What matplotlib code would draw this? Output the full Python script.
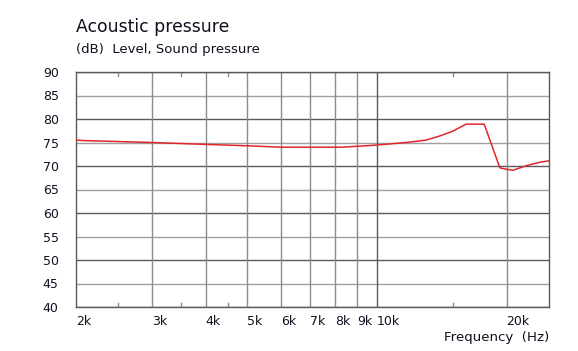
import matplotlib
matplotlib.use("Agg")
import matplotlib.pyplot as plt
from matplotlib.ticker import FixedLocator, NullFormatter

# Data
freq_hz = [2000, 2100, 3000, 4000, 5000, 6000, 8300, 9800, 11700, 13000, 14000,
           15000, 16100, 17750, 19300, 20000, 20700, 22300, 23900, 25100]
level_db = [75.5, 75.4, 75.0, 74.6, 74.3, 74.0, 74.0, 74.4, 75.0, 75.5, 76.4,
            77.4, 78.9, 78.9, 69.6, 69.3, 69.1, 70.1, 70.8, 71.1]

xtick_vals = [2000, 3000, 4000, 5000, 6000, 7000, 8000, 9000, 10000, 20000]
xtick_labels = ["2k", "3k", "4k", "5k", "6k", "7k", "8k", "9k", "10k", "20k"]
ytick_vals = [40, 45, 50, 55, 60, 65, 70, 75, 80, 85, 90]
minor_x = [2500, 3500, 4500, 15000]

title = "Acoustic pressure"
subtitle = "(dB)  Level, Sound pressure"
xlabel = "Frequency  (Hz)"

W, H = 578, 351
fig = plt.figure(figsize=(W / 100, H / 100), dpi=100)
ax = fig.add_axes([76 / W, 1 - 307 / H, (549 - 76) / W, (307 - 72) / H])

ax.set_xscale("log")
ax.set_xlim(2000, 25100)
ax.set_ylim(40, 90)

dark = "#5a5a5a"
light = "#a0a0a0"
txt = "#101020"

# horizontal grid
for v in ytick_vals:
    ax.axhline(v, color=dark if v % 10 == 0 else light, lw=1, zorder=1)
# vertical grid
for v in xtick_vals[1:]:
    ax.axvline(v, color=dark if v == 10000 else "#8c8c8c", lw=1, zorder=1)
# minor ticks (top and bottom)
for v in minor_x:
    ax.plot([v, v], [40, 40.9], color="#8c8c8c", lw=1, zorder=1)
    ax.plot([v, v], [89.1, 90], color="#8c8c8c", lw=1, zorder=1)

ax.plot(freq_hz, level_db, color="#e0262a", lw=1.1, zorder=3)

for s in ax.spines.values():
    s.set_color(dark)
    s.set_linewidth(1)

ax.xaxis.set_major_locator(FixedLocator([]))
ax.xaxis.set_minor_locator(FixedLocator([]))
ax.xaxis.set_minor_formatter(NullFormatter())
ax.set_yticks(ytick_vals)
ax.set_yticklabels([str(v) for v in ytick_vals])
ax.tick_params(axis="y", length=0, pad=12.5, labelsize=9, labelcolor=txt)
ax.tick_params(axis="x", length=0)

for v, lab in zip(xtick_vals, xtick_labels):
    ax.text(v, -0.033, lab, transform=ax.get_xaxis_transform(), ha="left", va="top",
            fontsize=9, color=txt)

fig.text(76 / W, 1 - 27 / H, title, ha="left", va="center", fontsize=12.4, color=txt)
fig.text(76 / W, 1 - 50 / H, subtitle, ha="left", va="center", fontsize=9.5, color=txt)
fig.text(549 / W, 1 - 338 / H, xlabel, ha="right", va="center", fontsize=9.6, color=txt)

fig.savefig("out.png", dpi=100)
